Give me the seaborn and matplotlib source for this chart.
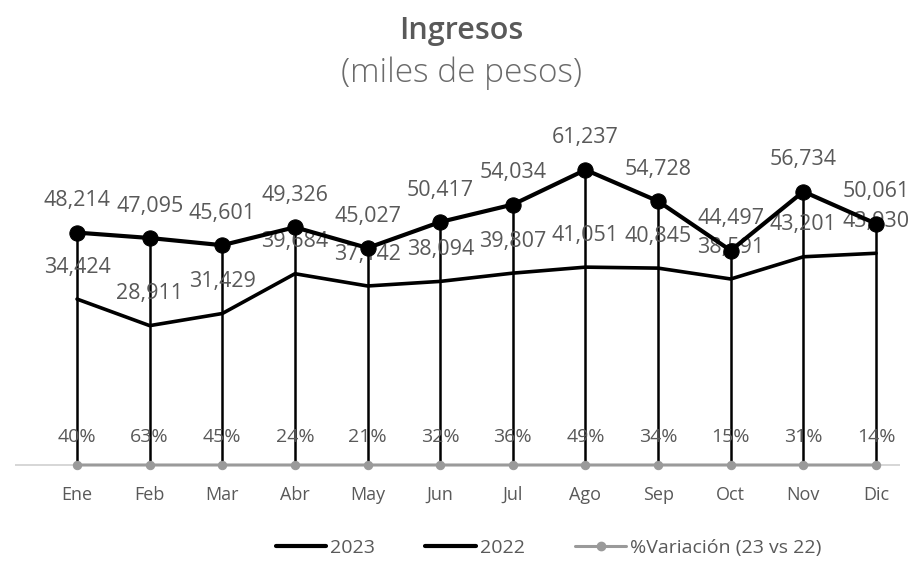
import matplotlib.pyplot as plt
import numpy as np
import seaborn as sns
from matplotlib.lines import Line2D

meses = ['Ene', 'Feb', 'Mar', 'Abr', 'May', 'Jun', 'Jul', 'Ago', 'Sep', 'Oct', 'Nov', 'Dic']
ingresos_2023 = [48214, 47095, 45601, 49326, 45027, 50417, 54034, 61237, 54728, 44497, 56734, 50061]
ingresos_2022 = [34424, 28911, 31429, 39684, 37142, 38094, 39807, 41051, 40845, 38591, 43201, 43930]
variacion = [40, 63, 45, 24, 21, 32, 36, 49, 34, 15, 31, 14]

sns.set_style('white')
plt.rcParams['font.family'] = ['Open Sans', 'DejaVu Sans']

gris_texto = '#595959'
gris_var = '#9a9a9a'
x = np.arange(len(meses))

fig = plt.figure(figsize=(9.14, 5.61), dpi=100)
ax = fig.add_axes([15 / 914, 1 - 480 / 561, 885 / 914, 380 / 561])

# eje horizontal claro
ax.axhline(0, color='#d0d0d0', linewidth=1.2, zorder=1)

# lineas de caida desde 2023 hasta el eje
ax.vlines(x, 0, ingresos_2023, color='black', linewidth=1.8, zorder=2)

sns.lineplot(x=x, y=ingresos_2023, ax=ax, color='black', linewidth=3,
             marker='o', markersize=11, markeredgecolor='black', zorder=4)
sns.lineplot(x=x, y=ingresos_2022, ax=ax, color='black', linewidth=2.6, zorder=3)
sns.lineplot(x=x, y=np.array(variacion) / 100, ax=ax, color=gris_var, linewidth=2.2,
             marker='o', markersize=6, markeredgecolor=gris_var, zorder=3)

# etiquetas de datos
for i in x:
    ax.annotate(f'{ingresos_2023[i]:,}', (i, ingresos_2023[i]), xytext=(0, 23),
                textcoords='offset points', ha='center', va='center',
                fontsize=15.5, color=gris_texto)
    ax.annotate(f'{ingresos_2022[i]:,}', (i, ingresos_2022[i]), xytext=(0, 23),
                textcoords='offset points', ha='center', va='center',
                fontsize=15.5, color=gris_texto)
    ax.annotate(f'{variacion[i]}%', (i, 0), xytext=(0, 20),
                textcoords='offset points', ha='center', va='center',
                fontsize=14, color=gris_texto)

ax.set_xlim(-0.854, 11.33)
ax.set_ylim(-3112, 75726)
ax.set_xticks(x)
ax.set_xticklabels(meses, fontsize=13, color=gris_texto)
ax.tick_params(axis='x', length=0, pad=4)
ax.set_yticks([])
ax.set_xlabel('')
ax.set_ylabel('')
for s in ax.spines.values():
    s.set_visible(False)

handles = [
    Line2D([], [], color='black', linewidth=3),
    Line2D([], [], color='black', linewidth=3),
    Line2D([], [], color=gris_var, linewidth=2.2, marker='o', markersize=6),
]
fig.legend(handles, ['2023', '2022', '%Variación (23 vs 22)'], loc='center',
           bbox_to_anchor=(0.6, 1 - 548 / 561), ncol=3, frameon=False,
           fontsize=14, labelcolor=gris_texto, handlelength=2.6,
           handletextpad=0.2, columnspacing=2.6)

fig.text(0.505, 1 - 31 / 561, 'Ingresos', ha='center', va='center',
         fontsize=22, fontweight='semibold', color=gris_texto)
fig.text(0.505, 1 - 73 / 561, '(miles de pesos)', ha='center', va='center',
         fontsize=24, fontweight='light', color='#6b6b6b')

fig.savefig('out.png', dpi=100)
